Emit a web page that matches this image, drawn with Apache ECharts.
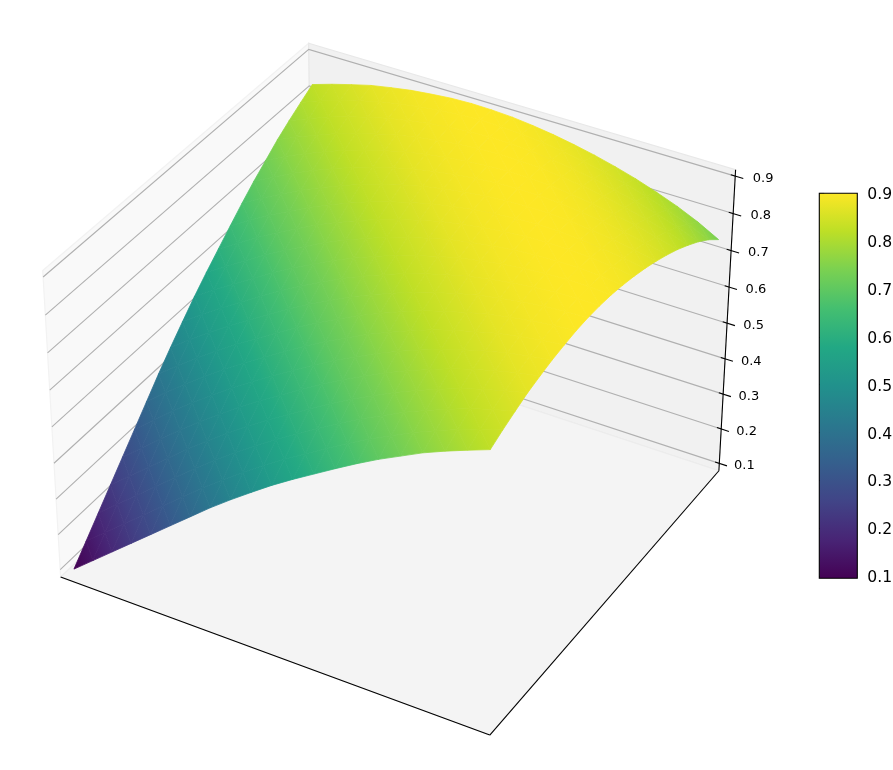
<!DOCTYPE html>
<html><head><meta charset="utf-8">
<style>html,body{margin:0;padding:0;background:#fff}#c{width:893px;height:770px}</style>
<script src="https://cdn.jsdelivr.net/npm/echarts@6/dist/echarts.min.js"></script>
</head><body><div id="c"></div>
<script>
const xValues=[0,.05,.1,.15,.2,.25,.3,.35,.4,.45,.5,.55,.6,.65,.7,.75,.8,.85,.9,.95,1];
const yValues=[0,.05,.1,.15,.2,.25,.3,.35,.4,.45,.5,.55,.6,.65,.7,.75,.8,.85,.9,.95,1];
const zRows=[
[.095,.140,.185,.230,.275,.320,.365,.410,.452,.492,.531,.567,.601,.635,.668,.699,.727,.755,.779,.801,.822],
[.140,.185,.230,.275,.320,.365,.410,.452,.492,.531,.567,.601,.635,.668,.699,.727,.755,.779,.801,.822,.839],
[.185,.230,.275,.320,.365,.410,.452,.492,.531,.567,.601,.635,.668,.699,.727,.755,.779,.801,.822,.839,.854],
[.230,.275,.320,.365,.410,.452,.492,.531,.567,.601,.635,.668,.699,.727,.755,.779,.801,.822,.839,.854,.868],
[.275,.320,.365,.410,.452,.492,.531,.567,.601,.635,.668,.699,.727,.755,.779,.801,.822,.839,.854,.868,.878],
[.320,.365,.410,.452,.492,.531,.567,.601,.635,.668,.699,.727,.755,.779,.801,.822,.839,.854,.868,.878,.887],
[.365,.410,.452,.492,.531,.567,.601,.635,.668,.699,.727,.755,.779,.801,.822,.839,.854,.868,.878,.887,.893],
[.410,.452,.492,.531,.567,.601,.635,.668,.699,.727,.755,.779,.801,.822,.839,.854,.868,.878,.887,.893,.898],
[.452,.492,.531,.567,.601,.635,.668,.699,.727,.755,.779,.801,.822,.839,.854,.868,.878,.887,.893,.898,.900],
[.492,.531,.567,.601,.635,.668,.699,.727,.755,.779,.801,.822,.839,.854,.868,.878,.887,.893,.898,.900,.899],
[.531,.567,.601,.635,.668,.699,.727,.755,.779,.801,.822,.839,.854,.868,.878,.887,.893,.898,.900,.899,.896],
[.567,.601,.635,.668,.699,.727,.755,.779,.801,.822,.839,.854,.868,.878,.887,.893,.898,.900,.899,.896,.890],
[.601,.635,.668,.699,.727,.755,.779,.801,.822,.839,.854,.868,.878,.887,.893,.898,.900,.899,.896,.890,.882],
[.635,.668,.699,.727,.755,.779,.801,.822,.839,.854,.868,.878,.887,.893,.898,.900,.899,.896,.890,.882,.872],
[.668,.699,.727,.755,.779,.801,.822,.839,.854,.868,.878,.887,.893,.898,.900,.899,.896,.890,.882,.872,.860],
[.699,.727,.755,.779,.801,.822,.839,.854,.868,.878,.887,.893,.898,.900,.899,.896,.890,.882,.872,.860,.846],
[.727,.755,.779,.801,.822,.839,.854,.868,.878,.887,.893,.898,.900,.899,.896,.890,.882,.872,.860,.846,.830],
[.755,.779,.801,.822,.839,.854,.868,.878,.887,.893,.898,.900,.899,.896,.890,.882,.872,.860,.846,.830,.811],
[.779,.801,.822,.839,.854,.868,.878,.887,.893,.898,.900,.899,.896,.890,.882,.872,.860,.846,.830,.811,.790],
[.801,.822,.839,.854,.868,.878,.887,.893,.898,.900,.899,.896,.890,.882,.872,.860,.846,.830,.811,.790,.765],
[.822,.839,.854,.868,.878,.887,.893,.898,.900,.899,.896,.890,.882,.872,.860,.846,.830,.811,.790,.765,.735]
];
const zTicks=[.1,.2,.3,.4,.5,.6,.7,.8,.9];
const colorLimits=[.0952,.9];
const viridis=['#440154','#482475','#414487','#355f8d','#2a788e','#21918c','#22a884','#44bf70','#7ad151','#bddf26','#fde725'];

const FONT='DejaVu Sans';
const zLim=[.0784,.9168], xyInset=.02;
const rgb=viridis.map(h=>[1,3,5].map(k=>parseInt(h.substr(k,2),16)));
function colorOf(z){
  let t=(z-colorLimits[0])/(colorLimits[1]-colorLimits[0]);
  t=Math.max(0,Math.min(1,t))*(rgb.length-1);
  const i=Math.min(rgb.length-2,Math.floor(t)),f=t-i;
  return 'rgb('+[0,1,2].map(c=>Math.round(rgb[i][c]+(rgb[i+1][c]-rgb[i][c])*f)).join(',')+')';
}
// matplotlib-style perspective camera
const el=35*Math.PI/180,az=-60*Math.PI/180,dist=10;
const aspect=[1.1905,1.1905,.8929];
const W=[Math.cos(el)*Math.cos(az),Math.cos(el)*Math.sin(az),Math.sin(el)];
const U=[-Math.sin(az),Math.cos(az),0];
const V=[W[1]*U[2]-W[2]*U[1],W[2]*U[0]-W[0]*U[2],W[0]*U[1]-W[1]*U[0]];
const dot=(a,b)=>a[0]*b[0]+a[1]*b[1]+a[2]*b[2];
function view(bx,by,bz){
  const P=[(bx-.5)*aspect[0],(by-.5)*aspect[1],(bz-.5)*aspect[2]];
  const D=dist-dot(P,W);
  return [dot(P,U)/D,dot(P,V)/D];
}
const zBox=z=>(z-zLim[0])/(zLim[1]-zLim[0]);
const xyBox=v=>xyInset+(1-2*xyInset)*v;

function triFill(p,z){
  const e1=[p[1][0]-p[0][0],p[1][1]-p[0][1]],e2=[p[2][0]-p[0][0],p[2][1]-p[0][1]];
  const d1=z[1]-z[0],d2=z[2]-z[0],det=e1[0]*e2[1]-e2[0]*e1[1];
  const zl=Math.min(z[0],z[1],z[2]),zh=Math.max(z[0],z[1],z[2]);
  if(Math.abs(det)<1e-6||zh-zl<1e-6) return colorOf(z[0]);
  const gx=(d1*e2[1]-d2*e1[1])/det,gy=(e1[0]*d2-e2[0]*d1)/det,g2=gx*gx+gy*gy;
  const a=(zl-z[0])/g2,b=(zh-z[0])/g2;
  return new echarts.graphic.LinearGradient(p[0][0]+gx*a,p[0][1]+gy*a,p[0][0]+gx*b,p[0][1]+gy*b,
    [{offset:0,color:colorOf(zl)},{offset:.5,color:colorOf((zl+zh)/2)},{offset:1,color:colorOf(zh)}],true);
}

const cells=[];
for(let j=yValues.length-2;j>=0;j--) for(let i=0;i<xValues.length-1;i++){cells.push([i,j,0]);cells.push([i,j,1]);}

function renderCell(params,api){
  const i=api.value(0),j=api.value(1),t=api.value(2);
  const corners=t===0?[[i,j],[i+1,j],[i,j+1]]:[[i+1,j],[i+1,j+1],[i,j+1]];
  const pts=corners.map(c=>api.coord(view(xyBox(xValues[c[0]]),xyBox(yValues[c[1]]),zBox(zRows[c[1]][c[0]]))));
  const zs=corners.map(c=>zRows[c[1]][c[0]]);
  const fill=triFill(pts,zs);
  return {type:'polygon',shape:{points:pts},style:{fill:fill,stroke:fill,lineWidth:.8},silent:true};
}

const panes=[
 {c:[[0,0,0],[0,1,0],[0,1,1],[0,0,1]],fill:'#f9f9f9',edge:'#f2f2f2'},
 {c:[[0,1,0],[1,1,0],[1,1,1],[0,1,1]],fill:'#f1f1f1',edge:'#e8e8e8'},
 {c:[[0,0,0],[1,0,0],[1,1,0],[0,1,0]],fill:'#f4f4f4',edge:'#ececec'}
];
const axisEdges=[[[0,0,0],[1,0,0]],[[1,0,0],[1,1,0]],[[1,1,0],[1,1,1]]];

const series=[
 {type:'custom',name:'panes',coordinateSystem:'cartesian2d',xAxisIndex:0,yAxisIndex:0,z:1,silent:true,clip:false,animation:false,
  data:panes.map((p,k)=>[k,0]),
  encode:{x:1,y:1},
  renderItem(params,api){
    const p=panes[api.value(0)];
    return {type:'polygon',shape:{points:p.c.map(c=>api.coord(view(c[0],c[1],c[2])))},style:{fill:p.fill,stroke:p.edge,lineWidth:1.2}};
  }},
 {type:'custom',name:'zgrid',coordinateSystem:'cartesian2d',xAxisIndex:0,yAxisIndex:0,z:2,silent:true,clip:false,animation:false,
  data:zTicks.map(t=>[t,0]),
  encode:{x:1,y:1},
  renderItem(params,api){
    const t=api.value(0),h=zBox(t);
    const g=[[0,0,h],[0,1,h],[1,1,h]].map(c=>api.coord(view(c[0],c[1],c[2])));
    return {type:'polyline',shape:{points:g},style:{fill:'none',stroke:'#b0b0b0',lineWidth:1.1}};
  }},
 {type:'custom',name:'surface',coordinateSystem:'cartesian2d',xAxisIndex:0,yAxisIndex:0,z:3,silent:true,clip:false,animation:false,
  progressive:0,data:cells,encode:{x:1,y:1},renderItem:renderCell},
 {type:'custom',name:'axes3d',coordinateSystem:'cartesian2d',xAxisIndex:0,yAxisIndex:0,z:4,silent:true,clip:false,animation:false,
  data:axisEdges.map((e,k)=>[k,0]),encode:{x:1,y:1},
  renderItem(params,api){
    const e=axisEdges[api.value(0)];
    return {type:'polyline',shape:{points:e.map(c=>api.coord(view(c[0],c[1],c[2])))},style:{fill:'none',stroke:'#000',lineWidth:1.1}};
  }},
 {type:'custom',name:'zticks',coordinateSystem:'cartesian2d',xAxisIndex:0,yAxisIndex:0,z:5,silent:true,clip:false,animation:false,
  data:zTicks.map(t=>[t,0]),encode:{x:1,y:1},
  renderItem(params,api){
    const t=api.value(0),h=zBox(t);
    const a=api.coord(view(.99,1,h)),b=api.coord(view(1.018,1,h)),m=api.coord(view(1,1,h));
    return {type:'group',children:[
      {type:'line',shape:{x1:a[0],y1:a[1],x2:b[0],y2:b[1]},style:{stroke:'#000',lineWidth:1.1}},
      {type:'text',style:{x:m[0]+25+3*h,y:m[1]+2.5,text:t.toFixed(1),fill:'#000',font:'13px "'+FONT+'"',align:'center',verticalAlign:'middle'}}
    ]};
  }},
 {type:'custom',name:'colorbar',coordinateSystem:'cartesian2d',xAxisIndex:1,yAxisIndex:1,z:3,silent:true,animation:false,clip:false,
  data:[[0,colorLimits[0],1,colorLimits[1]]],encode:{x:[0,2],y:[1,3]},
  renderItem(params,api){
    const a=api.coord([api.value(0),api.value(1)]),b=api.coord([api.value(2),api.value(3)]);
    const stops=viridis.map((c,k)=>({offset:k/(viridis.length-1),color:c}));
    return {type:'rect',shape:{x:a[0],y:b[1],width:b[0]-a[0],height:a[1]-b[1]},
      style:{fill:new echarts.graphic.LinearGradient(0,1,0,0,stops),stroke:'#000',lineWidth:1.1}};
  }}
];

const chart=echarts.init(document.getElementById('c'),null,{renderer:'canvas',width:893,height:770});
chart.setOption({
  animation:false,backgroundColor:'#fff',
  grid:[{left:1.25,top:1.5,width:767.75,height:767.75,containLabel:false,outerBoundsMode:'none'},
        {left:819.3,top:193.3,width:38,height:385,containLabel:false,outerBoundsMode:'none'}],
  xAxis:[{type:'value',gridIndex:0,min:-.095,max:.09,show:false},
         {type:'value',gridIndex:1,min:0,max:1,show:false}],
  yAxis:[{type:'value',gridIndex:0,min:-.095,max:.09,show:false},
         {type:'value',gridIndex:1,min:colorLimits[0],max:colorLimits[1],position:'right',
          axisLine:{show:false},splitLine:{show:false},
          axisTick:{show:true,length:5,inside:false,lineStyle:{color:'#000',width:1.1},customValues:zTicks},
          axisLabel:{show:true,margin:10,customValues:zTicks,
            formatter:v=>'{a|'+v.toFixed(1)+'}',
            rich:{a:{color:'#000',fontFamily:FONT,fontSize:15.6,padding:[4,0,0,0]}},
            showMinLabel:true,showMaxLabel:true}}],
  series:series
});
</script></body></html>
